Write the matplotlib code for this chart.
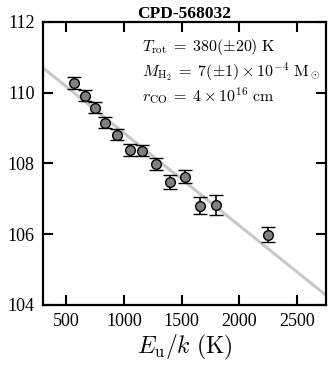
import matplotlib
matplotlib.use("Agg")
import matplotlib.pyplot as plt

plt.rcParams['font.family'] = ['Liberation Serif', 'DejaVu Serif']
plt.rcParams['mathtext.fontset'] = 'cm'

# level energies and column densities
e_up = [570, 665, 752, 839, 943, 1057, 1161, 1278, 1404, 1526, 1657, 1796, 2248]
ln_ng = [110.28, 109.91, 109.57, 109.15, 108.81, 108.38, 108.36, 107.98,
         107.47, 107.62, 106.80, 106.82, 105.98]
err = [0.17, 0.16, 0.16, 0.15, 0.15, 0.16, 0.16, 0.17, 0.2, 0.19, 0.24, 0.28, 0.21]

# rotational diagram fit
fit_x = [300, 2750]
fit_y = [110.70, 104.27]

fig, ax = plt.subplots(figsize=(3.3, 3.65), dpi=100)
fig.subplots_adjust(left=0.13, right=0.988, top=0.94, bottom=0.165)

ax.plot(fit_x, fit_y, color='#c8c8c8', lw=2.2, zorder=1)
ax.errorbar(e_up, ln_ng, yerr=err, fmt='o', color='black', mfc='#808080',
            mec='black', ms=7, mew=1.0, capsize=5, elinewidth=1.2,
            capthick=1.2, zorder=3)

ax.set_xlim(300, 2750)
ax.set_ylim(104, 112)
ax.set_xticks([500, 1000, 1500, 2000, 2500])
ax.set_yticks([104, 106, 108, 110, 112])
ax.tick_params(direction='in', top=True, right=True, length=7, width=1.5,
               labelsize=13, pad=6)
for sp in ax.spines.values():
    sp.set_linewidth(1.6)

ax.set_xlabel(r'$E_\mathrm{u}/k\ \mathrm{(K)}$', fontsize=17, labelpad=2)
ax.set_title('CPD-568032', fontsize=12.5, fontweight='bold', pad=3)

ax.text(0.35, 0.912, r'$T_\mathrm{rot}\;=\;380(\pm20)\ \mathrm{K}$',
        transform=ax.transAxes, fontsize=11.5, va='center')
ax.text(0.35, 0.823, r'$M_\mathrm{H_2}\;=\;7(\pm1)\times10^{-4}\ \mathrm{M_\odot}$',
        transform=ax.transAxes, fontsize=11.5, va='center')
ax.text(0.35, 0.735, r'$r_\mathrm{CO}\;=\;4\times10^{16}\ \mathrm{cm}$',
        transform=ax.transAxes, fontsize=11.5, va='center')

fig.savefig('out.png', dpi=100)
